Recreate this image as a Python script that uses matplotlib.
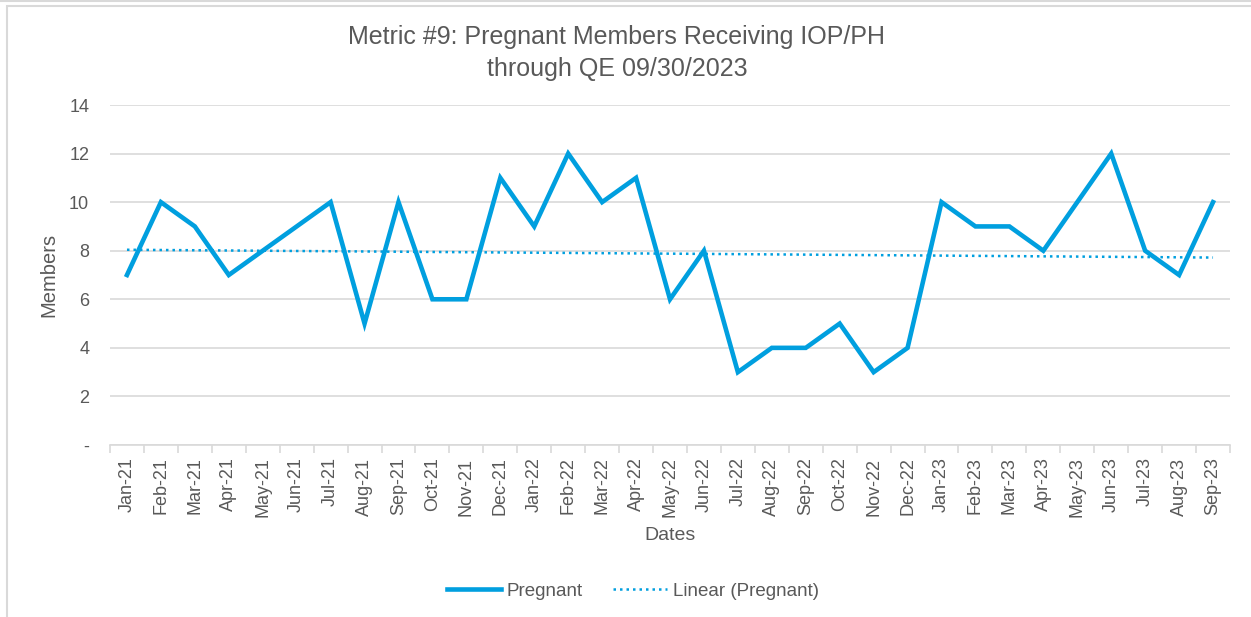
import numpy as np
import matplotlib
matplotlib.use("Agg")
import matplotlib.pyplot as plt
from matplotlib.patches import Rectangle
from matplotlib.lines import Line2D

plt.rcParams['font.family'] = ['Liberation Sans', 'DejaVu Sans']

# data
months = ['Jan-21', 'Feb-21', 'Mar-21', 'Apr-21', 'May-21', 'Jun-21', 'Jul-21', 'Aug-21',
          'Sep-21', 'Oct-21', 'Nov-21', 'Dec-21', 'Jan-22', 'Feb-22', 'Mar-22', 'Apr-22',
          'May-22', 'Jun-22', 'Jul-22', 'Aug-22', 'Sep-22', 'Oct-22', 'Nov-22', 'Dec-22',
          'Jan-23', 'Feb-23', 'Mar-23', 'Apr-23', 'May-23', 'Jun-23', 'Jul-23', 'Aug-23',
          'Sep-23']
pregnant = [7, 10, 9, 7, 8, 9, 10, 5, 10, 6, 6, 11, 9, 12, 10, 11,
            6, 8, 3, 4, 4, 5, 3, 4, 10, 9, 9, 8, 10, 12, 8, 7, 10]
yticks = [0, 2, 4, 6, 8, 10, 12, 14]
ylabels = ['-', '2', '4', '6', '8', '10', '12', '14']

blue = '#009FDF'
txt = '#595959'
grid = '#D9D9D9'

fig = plt.figure(figsize=(12.51, 6.17), dpi=100)

# chart frame
fig.patches.append(Rectangle((7 / 1251, -0.1), 1.2, 1 - 6 / 617 + 0.1,
                             transform=fig.transFigure, fill=False,
                             edgecolor=grid, linewidth=1.5))
fig.lines.append(Line2D([0, 1], [1 - 1 / 617, 1 - 1 / 617], transform=fig.transFigure,
                        color=grid, linewidth=1.5))

ax = fig.add_axes([110 / 1251, 1 - 445 / 617, 1120 / 1251, 340 / 617])

x = np.arange(len(months)) + 0.5
ax.plot(x, pregnant, color=blue, linewidth=3.3, solid_joinstyle='miter',
        label='Pregnant', zorder=3)

# linear trendline
k, b = np.polyfit(np.arange(1, len(pregnant) + 1), pregnant, 1)
trend = k * np.arange(1, len(pregnant) + 1) + b
ax.plot(x, trend, color=blue, linewidth=1.8, linestyle=(0, (1, 1.6)),
        label='Linear (Pregnant)', zorder=2)

ax.set_xlim(0, len(months))
ax.set_ylim(0, 14)
ax.set_yticks(yticks)
ax.set_yticklabels(ylabels)
ax.set_xticks(x)
ax.set_xticklabels(months, rotation=90)
ax.set_xticks(np.arange(len(months) + 1), minor=True)
ax.tick_params(axis='x', which='major', length=0, pad=9, labelsize=13, labelcolor=txt)
ax.tick_params(axis='x', which='minor', length=6, color=grid, width=1.2)
ax.tick_params(axis='y', length=0, pad=15, labelsize=13, labelcolor=txt)

ax.grid(axis='y', color=grid, linewidth=1.2)
ax.set_axisbelow(True)
for s in ['top', 'right', 'left']:
    ax.spines[s].set_visible(False)
ax.spines['bottom'].set_color(grid)
ax.spines['bottom'].set_linewidth(1.2)

fig.text(617 / 1251, 1 - 53 / 617,
         'Metric #9: Pregnant Members Receiving IOP/PH\nthrough QE 09/30/2023',
         ha='center', va='center', fontsize=18, color=txt, linespacing=1.4)
ax.set_xlabel('Dates', fontsize=14, color=txt, labelpad=7)
ax.set_ylabel('Members', fontsize=14.5, color=txt, labelpad=8)

fig.legend(loc='center', bbox_to_anchor=(633 / 1251, 1 - 591 / 617), ncol=2,
           frameon=False, fontsize=13.5, labelcolor=txt, handlelength=2.9,
           handletextpad=0.3, columnspacing=1.6)

plt.savefig('out.png', dpi=100)
